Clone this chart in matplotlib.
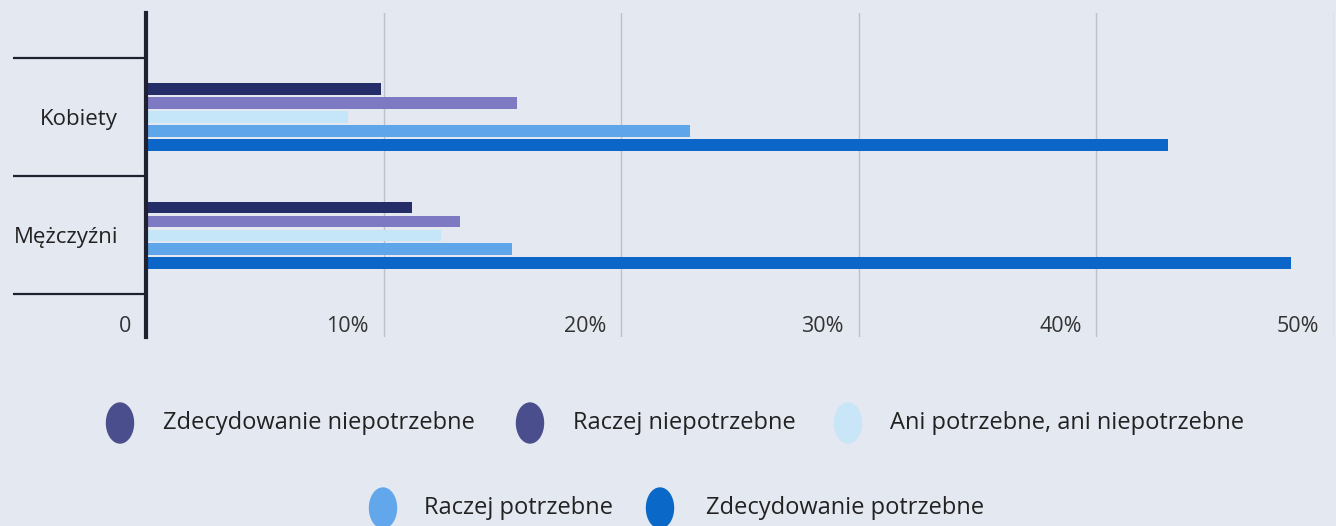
import matplotlib
matplotlib.use("Agg")
import matplotlib.pyplot as plt
from matplotlib.patches import Ellipse
from matplotlib.transforms import ScaledTranslation
import numpy as np

plt.rcParams['font.family'] = ['Open Sans', 'DejaVu Sans']

categories = ["Kobiety", "Mężczyźni"]
series_names = ["Zdecydowanie niepotrzebne", "Raczej niepotrzebne",
                "Ani potrzebne, ani niepotrzebne", "Raczej potrzebne",
                "Zdecydowanie potrzebne"]
kobiety = [9.9, 15.6, 8.5, 22.9, 43.0]
mezczyzni = [11.2, 13.2, 12.4, 15.4, 48.2]
bar_colors = ["#252d68", "#7d79c2", "#c5e5f8", "#5fa5ea", "#0b66c8"]
legend_colors = ["#4a4e8c", "#4a4e8c", "#c8e6f8", "#62a6ec", "#0a68c8"]
x_ticks = [0, 10, 20, 30, 40, 50]
x_tick_labels = ["0", "10%", "20%", "30%", "40%", "50%"]

bg = "#e4e8f1"
W, H = 1336, 526
fig = plt.figure(figsize=(W / 100, H / 100), dpi=100, facecolor=bg)

ax = fig.add_axes([146 / W, 1 - 337 / H, (1334 - 146) / W, (337 - 13) / H])
ax.set_facecolor(bg)

values = np.array([kobiety, mezczyzni])
ypos = np.arange(len(categories))
step = 0.118
height = 0.098
for i in range(len(series_names)):
    ax.barh(ypos + (i - 2) * step, values[:, i], height=height,
            color=bar_colors[i], zorder=3)

ax.set_xlim(0, 50)
ax.set_ylim(1.86, -0.88)

for s in ["top", "right", "bottom"]:
    ax.spines[s].set_visible(False)
ax.spines["left"].set_linewidth(3)
ax.spines["left"].set_color("#1f2131")
ax.spines["left"].set_zorder(5)

ax.set_xticks(x_ticks)
ax.set_xticklabels(x_tick_labels, fontsize=15.5, color="#333333")
ax.tick_params(axis="x", length=0, pad=-15)
for k, lab in enumerate(ax.get_xticklabels()):
    dx = -21 if k == 0 else -36
    lab.set_transform(lab.get_transform() +
                      ScaledTranslation(dx / 100, 0, fig.dpi_scale_trans))
ax.grid(axis="x", color="#bcc0cc", linewidth=1, zorder=1)

# category separators
ax.set_yticks([-0.5, 0.5, 1.5], minor=True)
ax.set_yticks(ypos)
ax.set_yticklabels(categories, fontsize=16, color="#222222")
ax.tick_params(axis="y", which="major", length=0, pad=20)
ax.tick_params(axis="y", which="minor", length=96, width=1.6, color="#1f2131")

# legend
rows = [
    (423, [(120, 0, 163), (530, 1, 573), (848, 2, 890)]),
    (508, [(383, 3, 424), (660, 4, 706)]),
]
for yc, items in rows:
    for xc, idx, xt in items:
        e = Ellipse((xc / W, 1 - yc / H), 27 / W, 40 / H,
                    transform=fig.transFigure, color=legend_colors[idx])
        fig.patches.append(e)
        fig.text(xt / W, 1 - yc / H, series_names[idx], fontsize=17,
                 color="#222222", va="center", ha="left")

fig.savefig("out.png", dpi=100, facecolor=bg)
